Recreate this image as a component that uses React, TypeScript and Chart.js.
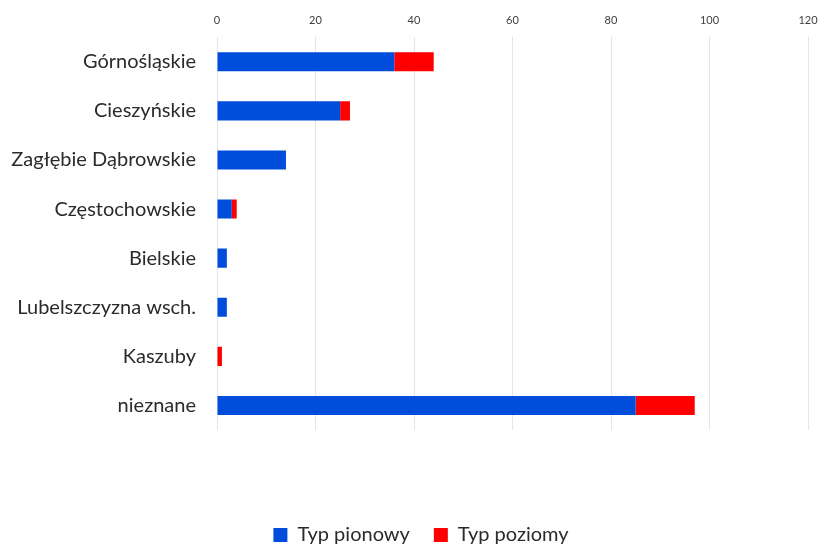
import React, { useEffect, useRef } from "react";
import { Chart, registerables } from "chart.js";

Chart.register(...registerables);

const regions = [
  "Górnośląskie",
  "Cieszyńskie",
  "Zagłębie Dąbrowskie",
  "Częstochowskie",
  "Bielskie",
  "Lubelszczyzna wsch.",
  "Kaszuby",
  "nieznane",
];
const verticalType = [36, 25, 14, 3, 2, 2, 0, 85];
const horizontalType = [8, 2, 0, 1, 0, 0, 1, 12];
const seriesNames = ["Typ pionowy", "Typ poziomy"];
const axisMax = 120;
const axisStep = 20;

const FONT = "Lato, 'Open Sans', sans-serif";

// nudges the legend row a little to the right of the canvas centre
const legendOffset = {
  id: "legendOffset",
  afterLayout(chart: any) {
    const lg = chart.legend;
    if (lg) {
      lg.left += 13;
      lg.right += 13;
    }
  },
};

export default function App() {
  const canvasRef = useRef<HTMLCanvasElement | null>(null);

  useEffect(() => {
    if (!canvasRef.current) return;
    const chart = new Chart(canvasRef.current, {
      type: "bar",
      data: {
        labels: regions,
        datasets: [
          {
            label: seriesNames[0],
            data: verticalType,
            backgroundColor: "#004CDB",
            borderWidth: 0,
          },
          {
            label: seriesNames[1],
            data: horizontalType,
            backgroundColor: "#FF0000",
            borderWidth: 0,
          },
        ],
      },
      options: {
        indexAxis: "y",
        animation: false,
        responsive: true,
        maintainAspectRatio: false,
        layout: { padding: { top: 4, right: 10, left: 8, bottom: -10 } },
        datasets: {
          bar: { categoryPercentage: 1, barPercentage: 0.39 },
        },
        scales: {
          x: {
            position: "top",
            stacked: true,
            min: 0,
            max: axisMax,
            ticks: {
              stepSize: axisStep,
              padding: 10,
              color: "#404040",
              font: { family: FONT, size: 11 },
            },
            grid: { color: "#E1E4EA", lineWidth: 1, drawTicks: false },
            border: { display: false },
            afterFit: (scale: any) => {
              scale.paddingRight = 0;
              scale.paddingLeft = 0;
            },
          },
          x2: {
            type: "linear",
            position: "bottom",
            display: true,
            grid: { display: false, drawTicks: false },
            ticks: { display: false },
            border: { display: false },
            afterFit: (scale: any) => {
              scale.height = 71;
              scale.paddingRight = 0;
              scale.paddingLeft = 0;
            },
          },
          y: {
            stacked: true,
            ticks: {
              padding: 21,
              color: "#2B2B2B",
              font: { family: FONT, size: 20 },
            },
            grid: { display: false, drawTicks: false },
            border: { display: false },
            afterFit: (scale: any) => {
              scale.width = 209;
            },
          },
        },
        plugins: {
          legend: {
            position: "bottom",
            labels: {
              boxWidth: 14,
              boxHeight: 14,
              padding: 24,
              color: "#2B2B2B",
              font: { family: FONT, size: 20 },
            },
          },
          tooltip: { enabled: false },
        },
      },
      plugins: [legendOffset],
    });
    return () => chart.destroy();
  }, []);

  return (
    <div style={{ position: "fixed", left: 0, top: 0, width: 818, height: 545, background: "#fff" }}>
      <canvas ref={canvasRef} />
    </div>
  );
}
